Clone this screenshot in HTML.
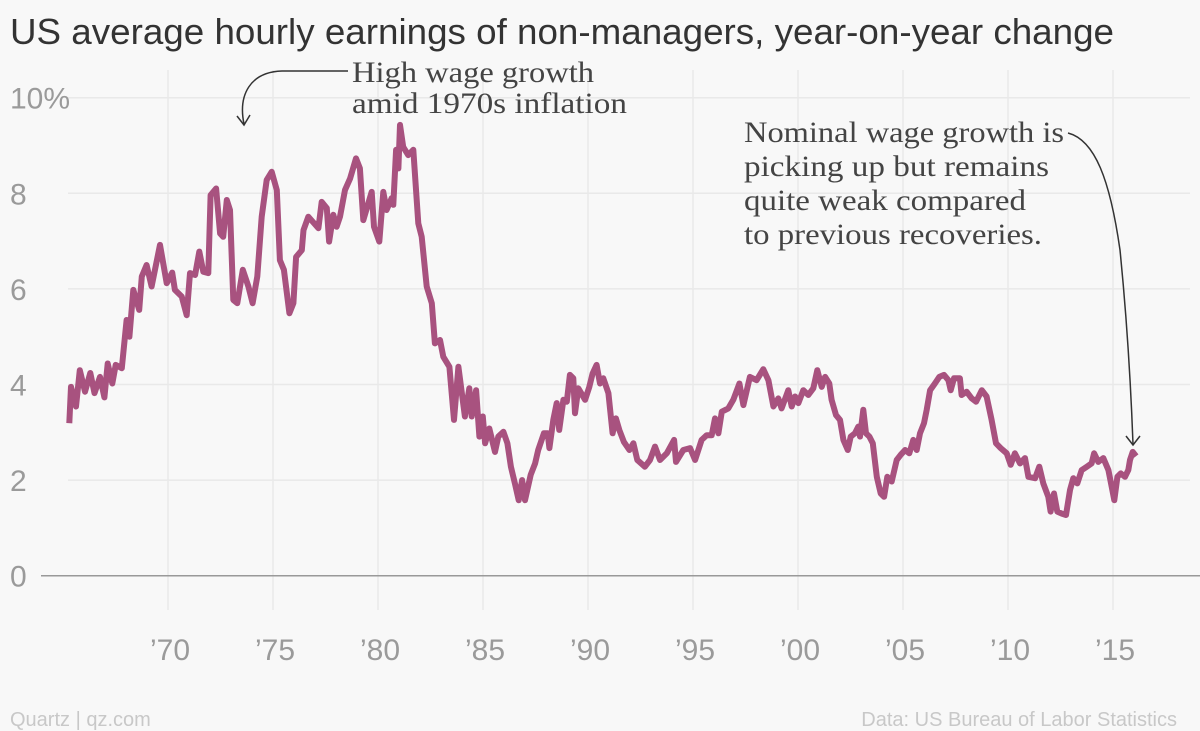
<!DOCTYPE html>
<html><head><meta charset="utf-8">
<style>
html,body{margin:0;padding:0;background:#f8f8f8;}
svg{display:block;}
.ax{font-family:"Liberation Sans",sans-serif;fill:#9a9a9a;font-size:30px;}
.an{font-family:"Liberation Serif",serif;fill:#444;font-size:30px;}
</style></head>
<body>
<svg id="chart" width="1200" height="731" viewBox="0 0 1200 731">
<rect width="1200" height="731" fill="#f8f8f8"/>
<text x="10" y="44" font-family="Liberation Sans, sans-serif" font-size="36" fill="#333" textLength="1104" lengthAdjust="spacingAndGlyphs">US average hourly earnings of non-managers, year-on-year change</text>
<g id="grid"></g>
<g id="axes"></g>
<path id="line" fill="none" stroke="#a8527f" stroke-width="6" stroke-linejoin="round"/>
<g>
<text class="an" x="352" y="82" textLength="242" lengthAdjust="spacingAndGlyphs">High wage growth</text>
<text class="an" x="352" y="113" textLength="275" lengthAdjust="spacingAndGlyphs">amid 1970s inflation</text>
<path d="M348,71 L282,71 C250,72 238,95 244,124" fill="none" stroke="#333" stroke-width="1.5"/>
<path d="M237,116 L244,125 L250,115" fill="none" stroke="#333" stroke-width="1.5"/>
</g>
<g>
<text class="an" x="744" y="142" textLength="320" lengthAdjust="spacingAndGlyphs">Nominal wage growth is</text>
<text class="an" x="744" y="176" textLength="305" lengthAdjust="spacingAndGlyphs">picking up but remains</text>
<text class="an" x="744" y="210" textLength="282" lengthAdjust="spacingAndGlyphs">quite weak compared</text>
<text class="an" x="744" y="244" textLength="298" lengthAdjust="spacingAndGlyphs">to previous recoveries.</text>
<path d="M1068,133 C1095,140 1110,180 1120,250 C1127,320 1131,390 1133,444" fill="none" stroke="#333" stroke-width="1.5"/>
<path d="M1126,436 L1133,445 L1140,436" fill="none" stroke="#333" stroke-width="1.5"/>
</g>
<text x="10" y="726" font-family="Liberation Sans, sans-serif" font-size="20" fill="#c8c8c8">Quartz | qz.com</text>
<text x="1177" y="726" text-anchor="end" font-family="Liberation Sans, sans-serif" font-size="20" fill="#c8c8c8">Data: US Bureau of Labor Statistics</text>
</svg>
<script>
const years=[1965.3,1965.38,1965.62,1965.8,1966.05,1966.3,1966.5,1966.76,1966.97,1967.13,1967.35,1967.51,1967.8,1968.03,1968.16,1968.35,1968.63,1968.75,1968.98,1969.22,1969.62,1969.94,1970.2,1970.33,1970.65,1970.89,1971.05,1971.29,1971.49,1971.68,1971.92,1972.03,1972.29,1972.48,1972.63,1972.8,1972.95,1973.11,1973.3,1973.56,1973.83,1974.03,1974.25,1974.46,1974.7,1974.94,1975.18,1975.33,1975.52,1975.78,1975.97,1976.1,1976.37,1976.45,1976.68,1977.16,1977.32,1977.56,1977.67,1977.87,1978.03,1978.19,1978.43,1978.67,1978.95,1979.14,1979.3,1979.49,1979.7,1979.81,1980.06,1980.25,1980.41,1980.65,1980.73,1980.86,1980.97,1981.05,1981.2,1981.44,1981.68,1981.92,1982.08,1982.32,1982.56,1982.71,1982.95,1983.11,1983.4,1983.62,1983.83,1984.14,1984.35,1984.46,1984.67,1984.83,1984.99,1985.1,1985.3,1985.57,1985.73,1985.97,1986.16,1986.33,1986.52,1986.7,1986.86,1987.0,1987.27,1987.48,1987.63,1987.9,1988.08,1988.16,1988.35,1988.51,1988.63,1988.83,1988.99,1989.14,1989.3,1989.38,1989.54,1989.86,1990.06,1990.22,1990.41,1990.57,1990.73,1990.97,1991.17,1991.33,1991.49,1991.71,1991.97,1992.16,1992.35,1992.71,1992.95,1993.19,1993.43,1993.75,1994.1,1994.19,1994.54,1994.86,1995.1,1995.41,1995.65,1995.89,1996.05,1996.21,1996.37,1996.68,1996.92,1997.21,1997.4,1997.71,1998.03,1998.35,1998.59,1998.83,1999.06,1999.22,1999.54,1999.7,1999.86,2000.02,2000.25,2000.49,2000.73,2000.92,2001.13,2001.29,2001.49,2001.6,2001.81,2002.0,2002.16,2002.37,2002.51,2002.71,2002.87,2002.95,2003.11,2003.24,2003.4,2003.56,2003.75,2003.94,2004.1,2004.25,2004.46,2004.7,2004.89,2005.1,2005.3,2005.49,2005.65,2005.81,2006.0,2006.13,2006.29,2006.52,2006.73,2006.95,2007.16,2007.27,2007.43,2007.71,2007.79,2008.03,2008.27,2008.48,2008.75,2008.98,2009.22,2009.43,2009.65,2009.94,2010.13,2010.33,2010.57,2010.81,2010.97,2011.29,2011.49,2011.68,2011.92,2012.03,2012.19,2012.35,2012.56,2012.76,2012.95,2013.11,2013.3,2013.51,2013.75,2013.98,2014.1,2014.3,2014.54,2014.78,2014.94,2015.06,2015.21,2015.37,2015.57,2015.73,2015.81,2015.94,2016.1];
const values=[3.19,3.95,3.54,4.30,3.85,4.24,3.82,4.16,3.73,4.44,4.02,4.41,4.34,5.35,5.0,5.98,5.56,6.26,6.5,6.05,6.92,6.12,6.34,5.98,5.84,5.45,6.33,6.29,6.78,6.36,6.33,7.96,8.1,7.16,7.09,7.86,7.65,5.77,5.70,6.40,6.05,5.70,6.26,7.51,8.28,8.45,8.07,6.6,6.4,5.49,5.70,6.67,6.81,7.23,7.51,7.27,7.82,7.69,6.99,7.55,7.30,7.51,8.07,8.31,8.73,8.52,7.44,7.72,8.03,7.30,6.99,8.03,7.65,7.9,7.76,8.91,8.52,9.43,8.97,8.80,8.91,7.37,7.09,6.05,5.70,4.86,4.93,4.58,4.37,3.26,4.37,3.33,3.92,3.33,3.88,2.91,3.33,2.77,3.08,2.59,2.91,3.01,2.77,2.28,1.93,1.58,2.0,1.58,2.11,2.35,2.63,2.98,2.98,2.67,3.26,3.61,3.05,3.68,3.64,4.2,4.13,3.40,3.92,3.68,3.95,4.23,4.41,4.02,4.13,3.82,2.98,3.29,3.05,2.80,2.63,2.77,2.42,2.28,2.42,2.70,2.42,2.56,2.84,2.38,2.63,2.67,2.42,2.84,2.94,2.94,3.29,2.98,3.43,3.50,3.68,4.02,3.57,4.16,4.09,4.32,4.09,3.54,3.71,3.50,3.88,3.54,3.75,3.61,3.88,3.78,3.92,4.30,3.95,4.16,4.02,3.68,3.36,3.26,2.84,2.63,2.91,2.98,3.12,2.91,3.47,2.98,2.91,2.77,2.07,1.72,1.65,2.07,1.97,2.42,2.53,2.63,2.56,2.84,2.63,2.98,3.19,3.47,3.88,4.02,4.16,4.20,4.09,3.88,4.13,4.13,3.78,3.85,3.71,3.64,3.88,3.75,3.26,2.77,2.67,2.56,2.32,2.56,2.35,2.46,2.07,2.04,2.28,1.93,1.65,1.34,1.72,1.34,1.30,1.27,1.79,2.04,1.93,2.21,2.28,2.35,2.56,2.38,2.46,2.21,1.86,1.58,2.07,2.14,2.07,2.21,2.42,2.59,2.5];
const yTicks=[0,2,4,6,8,10];
const yTickLabels=["0","2","4","6","8","10%"];
const xTicks=[1970,1975,1980,1985,1990,1995,2000,2005,2010,2015];
const xTickLabels=["’70","’75","’80","’85","’90","’95","’00","’05","’10","’15"];

const NS="http://www.w3.org/2000/svg";
function xs(yr){return 168+(yr-1970)*21.0;}
function ys(v){return 575.7-v*47.8;}
const grid=document.getElementById('grid');
const axes=document.getElementById('axes');
function mk(tag,attrs,parent){const e=document.createElementNS(NS,tag);for(const k in attrs)e.setAttribute(k,attrs[k]);parent.appendChild(e);return e;}
xTicks.forEach((t,i)=>{
  const l=mk('line',{x1:xs(t),x2:xs(t),y1:70,y2:610,stroke:'#e9e9e9','stroke-width':1.5},grid);
  
  
  const tx=mk('text',{x:xs(t)+2,y:660,'text-anchor':'middle',class:'ax'},axes);
  tx.textContent=xTickLabels[i];
  
  
});
yTicks.forEach((t,i)=>{
  if(t!==0){
    const l=mk('line',{x1:68,x2:1190,y1:ys(t),y2:ys(t),stroke:'#e9e9e9','stroke-width':1.5},grid);
    
    
  }
  const tx=mk('text',{x:10,y:ys(t)+11,class:'ax'},axes);
  tx.textContent=yTickLabels[i];
  
  
});
const zl=mk('line',{x1:41,x2:1200,y1:ys(0),y2:ys(0),stroke:'#999','stroke-width':1.5},axes);


let d='';
years.forEach((y,i)=>{d+=(i?'L':'M')+xs(y).toFixed(1)+','+ys(values[i]).toFixed(1);});
document.getElementById('line').setAttribute('d',d);
</script>
</body></html>
